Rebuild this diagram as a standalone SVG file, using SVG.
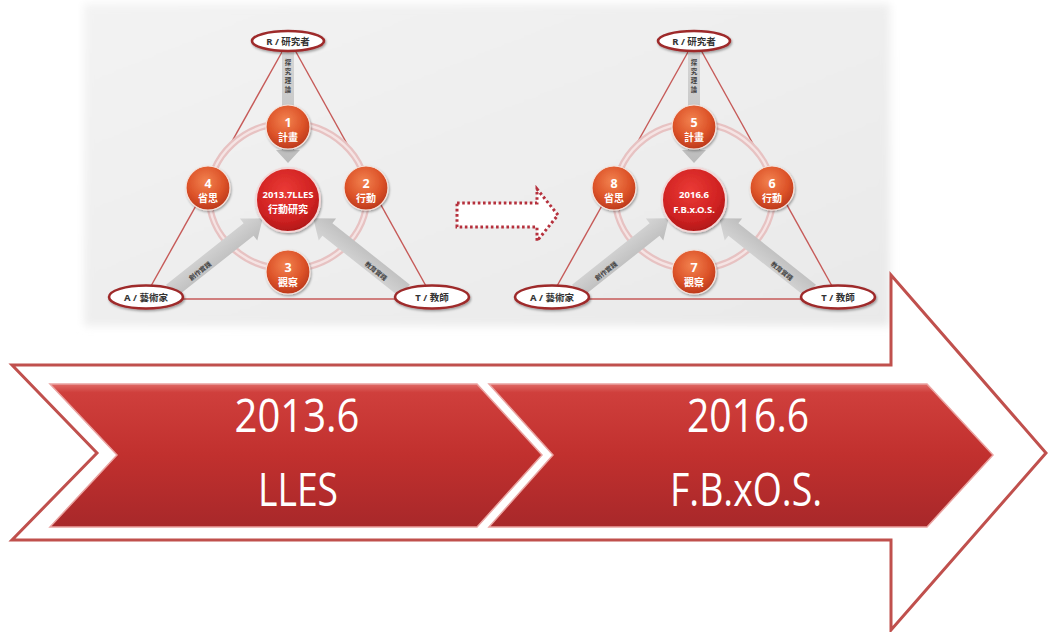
<svg xmlns="http://www.w3.org/2000/svg" width="1049" height="632" viewBox="0 0 1049 632">
<defs>
  <linearGradient id="panelG" x1="0" y1="0" x2="1" y2="1">
    <stop offset="0" stop-color="#f3f3f3"/>
    <stop offset="0.5" stop-color="#eeeeee"/>
    <stop offset="1" stop-color="#e9e9e9"/>
  </linearGradient>
  <filter id="feather" x="-5%" y="-5%" width="110%" height="110%">
    <feGaussianBlur stdDeviation="4"/>
  </filter>
  <filter id="shadow" x="-30%" y="-30%" width="160%" height="160%">
    <feDropShadow dx="1" dy="1.5" stdDeviation="1.3" flood-color="#000" flood-opacity="0.35"/>
  </filter>
  <linearGradient id="chevG" x1="0" y1="0" x2="0" y2="1">
    <stop offset="0" stop-color="#e06a66"/>
    <stop offset="0.06" stop-color="#cf3f3c"/>
    <stop offset="0.5" stop-color="#c1302e"/>
    <stop offset="1" stop-color="#a8282a"/>
  </linearGradient>
  <radialGradient id="smallG" cx="0.45" cy="0.35" r="0.7">
    <stop offset="0" stop-color="#f2824f"/>
    <stop offset="0.6" stop-color="#dc5228"/>
    <stop offset="1" stop-color="#b5341a"/>
  </radialGradient>
  <radialGradient id="centerG" cx="0.45" cy="0.35" r="0.7">
    <stop offset="0" stop-color="#ea3a35"/>
    <stop offset="0.65" stop-color="#d02222"/>
    <stop offset="1" stop-color="#a81515"/>
  </radialGradient>
  <linearGradient id="grayArrowG" x1="0" y1="0" x2="0" y2="1">
    <stop offset="0" stop-color="#d6d6d6"/>
    <stop offset="1" stop-color="#bcbcbc"/>
  </linearGradient>
  <style>
    .outline { fill: #ffffff; stroke: #c0504d; stroke-width: 3; stroke-linejoin: miter; }
    .chev { fill: url(#chevG); stroke: #eaa3a1; stroke-width: 1.5; }
    .big { font-family: "Open Sans", "Liberation Sans", sans-serif; font-size: 46px; fill: #ffffff; text-anchor: middle; }
    .tri { stroke: #c65a58; stroke-width: 1.4; fill: none; }
    .ring { fill: none; stroke: #e7c2c2; stroke-width: 7; }
    .ringIn { fill: none; stroke: #f5e4e4; stroke-width: 2.5; }
    .small { fill: url(#smallG); stroke: #f6e3dc; stroke-width: 1.2; filter: url(#shadow); }
    .center { fill: url(#centerG); stroke: #f3d7d7; stroke-width: 2; filter: url(#shadow); }
    .oval { fill: #ffffff; stroke: #9e2a2b; stroke-width: 2.6; filter: url(#shadow); }
    .lbl { font-family: "Noto Sans", "Noto Sans CJK TC", sans-serif; font-weight: bold; fill: #ffffff; text-anchor: middle; }
    .num { font-size: 12.5px; }
    .cjk { font-size: 10px; }
    .ovalt { font-family: "Noto Sans", "Noto Sans CJK TC", sans-serif; font-weight: bold; font-size: 9.5px; fill: #333333; text-anchor: middle; }
    .garrow { fill: url(#grayArrowG); }
    .gtext { font-family: "Noto Sans CJK TC", sans-serif; font-weight: bold; font-size: 6.5px; fill: #444444; text-anchor: middle; }
    .dotted { fill: #ffffff; stroke: #b5303c; stroke-width: 3; stroke-dasharray: 2.6 2.6; }
  </style>
  <g id="diagBase">
    <line class="tri" x1="-6" y1="-148" x2="-137" y2="86"/>
    <line class="tri" x1="8" y1="-148" x2="138" y2="86"/>
    <line class="tri" x1="-106" y1="99" x2="108" y2="99"/>
    <ellipse class="ring" cx="0" cy="-4" rx="79" ry="73"/>
    <ellipse class="ringIn" cx="0" cy="-4" rx="79" ry="73"/>
    <path class="garrow" d="M-6,-148 L6,-148 L6,-50 L12,-50 L0,-37 L-12,-50 L-6,-50 Z"/>
    <text class="gtext" x="0" y="-135"><tspan x="0">探</tspan><tspan x="0" dy="9">究</tspan><tspan x="0" dy="9">理</tspan><tspan x="0" dy="9">論</tspan></text>
    <g transform="translate(-117,91) rotate(-38.4)">
      <path class="garrow" d="M0,-8 L99,-8 L99,-14 L117,0 L99,14 L99,8 L0,8 Z"/>
    </g>
    <text class="gtext" transform="translate(-88,71) rotate(-38.4)" y="2.5">創作實踐</text>
    <g transform="translate(117,91) rotate(-141.6)">
      <path class="garrow" d="M0,-8 L99,-8 L99,-14 L117,0 L99,14 L99,8 L0,8 Z"/>
    </g>
    <text class="gtext" transform="translate(88,71) rotate(38.4)" y="2.5">教育實踐</text>
  </g>
</defs>

<rect x="84" y="4" width="806" height="322" fill="url(#panelG)" filter="url(#feather)"/>

<g id="timeline-arrow">
  <path class="outline" d="M12,365 L891,365 L891,275 L1046,453 L891,630 L891,540 L12,540 L97,453 Z"/>
</g>

<g id="chevron-2013">
  <path class="chev" d="M50,384 L477,384 L542,455 L477,527 L50,527 L117,455 Z"/>
  <text class="big" x="297" y="432" textLength="125" lengthAdjust="spacingAndGlyphs">2013.6</text>
  <text class="big" x="298" y="506" textLength="80" lengthAdjust="spacingAndGlyphs">LLES</text>
</g>
<g id="chevron-2016">
  <path class="chev" d="M489,384 L927,384 L993,455 L927,527 L489,527 L553,455 Z"/>
  <text class="big" x="748" y="432" textLength="122" lengthAdjust="spacingAndGlyphs">2016.6</text>
  <text class="big" x="746" y="506" textLength="152" lengthAdjust="spacingAndGlyphs">F.B.xO.S.</text>
</g>

<g id="diagram-2013" transform="translate(288,200)">
  <use href="#diagBase"/>
  <g id="l-R"><ellipse class="oval" cx="0" cy="-159" rx="36" ry="10"/><text class="ovalt" x="0" y="-155.5">R / 研究者</text></g>
  <g id="l-A"><ellipse class="oval" cx="-142" cy="97" rx="37" ry="11.5"/><text class="ovalt" x="-142" y="100.5">A / 藝術家</text></g>
  <g id="l-T"><ellipse class="oval" cx="144" cy="97" rx="37" ry="11.5"/><text class="ovalt" x="144" y="100.5">T / 教師</text></g>
  <g id="l-1"><circle class="small" cx="0" cy="-73" r="22"/><text class="lbl num" x="0" y="-73">1</text><text class="lbl cjk" x="0" y="-59">計畫</text></g>
  <g id="l-2"><circle class="small" cx="78" cy="-12" r="22"/><text class="lbl num" x="78" y="-12">2</text><text class="lbl cjk" x="78" y="2">行動</text></g>
  <g id="l-3"><circle class="small" cx="0" cy="72" r="22"/><text class="lbl num" x="0" y="72">3</text><text class="lbl cjk" x="0" y="86">觀察</text></g>
  <g id="l-4"><circle class="small" cx="-80" cy="-12" r="22"/><text class="lbl num" x="-80" y="-12">4</text><text class="lbl cjk" x="-80" y="2">省思</text></g>
  <g id="l-center"><circle class="center" cx="0" cy="0" r="32"/><text class="lbl" style="font-size:9.5px" x="0" y="-2">2013.7LLES</text><text class="lbl" style="font-size:10px" x="0" y="13">行動研究</text></g>
</g>

<g id="connectors">
  <path class="dotted" d="M457,203 L537,203 L537,189 L558,215 L537,241 L537,227 L457,227 Z"/>
</g>

<g id="diagram-2016" transform="translate(694,200)">
  <use href="#diagBase"/>
  <g id="r-R"><ellipse class="oval" cx="0" cy="-159" rx="36" ry="10"/><text class="ovalt" x="0" y="-155.5">R / 研究者</text></g>
  <g id="r-A"><ellipse class="oval" cx="-142" cy="97" rx="37" ry="11.5"/><text class="ovalt" x="-142" y="100.5">A / 藝術家</text></g>
  <g id="r-T"><ellipse class="oval" cx="144" cy="97" rx="37" ry="11.5"/><text class="ovalt" x="144" y="100.5">T / 教師</text></g>
  <g id="r-5"><circle class="small" cx="0" cy="-73" r="22"/><text class="lbl num" x="0" y="-73">5</text><text class="lbl cjk" x="0" y="-59">計畫</text></g>
  <g id="r-6"><circle class="small" cx="78" cy="-12" r="22"/><text class="lbl num" x="78" y="-12">6</text><text class="lbl cjk" x="78" y="2">行動</text></g>
  <g id="r-7"><circle class="small" cx="0" cy="72" r="22"/><text class="lbl num" x="0" y="72">7</text><text class="lbl cjk" x="0" y="86">觀察</text></g>
  <g id="r-8"><circle class="small" cx="-80" cy="-12" r="22"/><text class="lbl num" x="-80" y="-12">8</text><text class="lbl cjk" x="-80" y="2">省思</text></g>
  <g id="r-center"><circle class="center" cx="0" cy="0" r="32"/><text class="lbl" style="font-size:9.5px" x="0" y="-2">2016.6</text><text class="lbl" style="font-size:9.5px" x="0" y="13">F.B.x.O.S.</text></g>
</g>
</svg>
